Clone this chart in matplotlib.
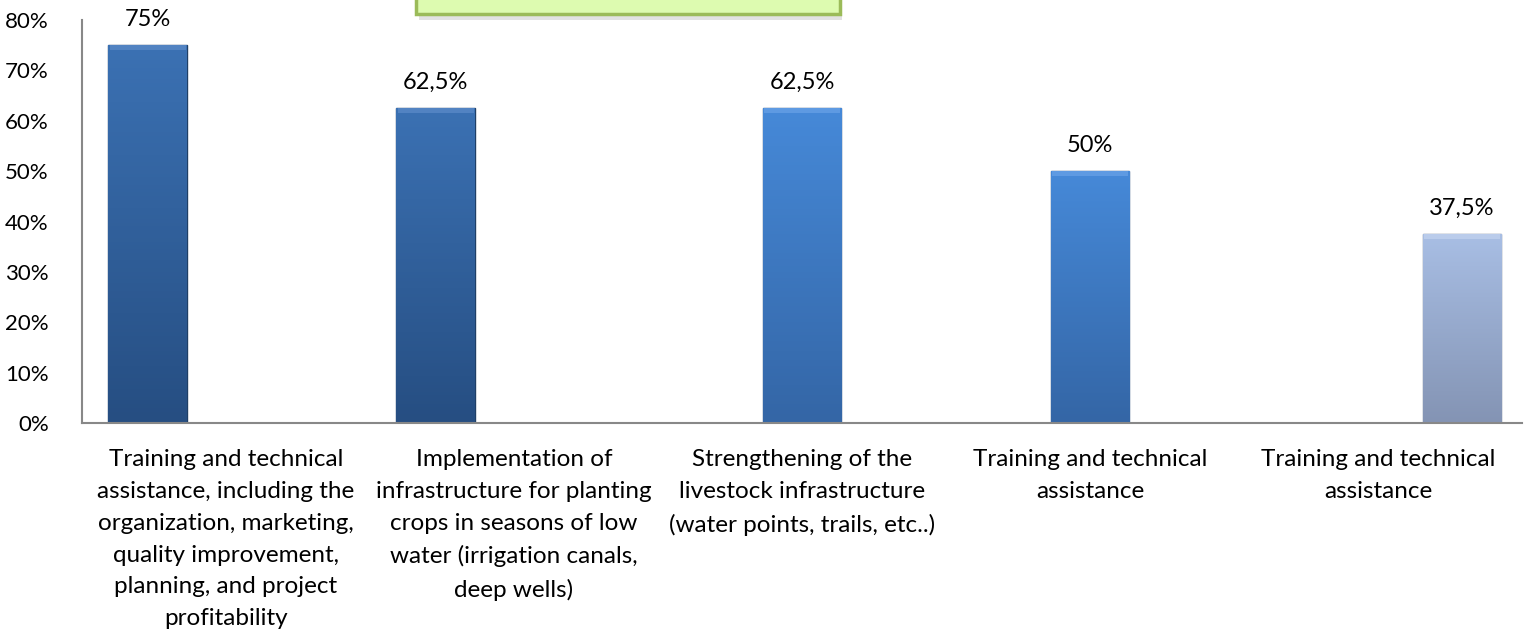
import numpy as np
import matplotlib.pyplot as plt
from matplotlib.patches import Rectangle
from matplotlib.colors import LinearSegmentedColormap

categories = [
    "Training and technical\nassistance, including the\norganization, marketing,\nquality improvement,\nplanning, and project\nprofitability",
    "Implementation of\ninfrastructure for planting\ncrops in seasons of low\nwater (irrigation canals,\ndeep wells)",
    "Strengthening of the\nlivestock infrastructure\n(water points, trails, etc..)",
    "Training and technical\nassistance",
    "Training and technical\nassistance",
]
values = [0.75, 0.625, 0.625, 0.50, 0.375]
value_labels = ["75%", "62,5%", "62,5%", "50%", "37,5%"]
series = [0, 0, 1, 1, 2]  # which cluster slot each bar sits in
yticks = [0, 0.1, 0.2, 0.3, 0.4, 0.5, 0.6, 0.7, 0.8]

# top / bottom gradient colours per series
grad = [("#3B71B3", "#264E82"), ("#4689D8", "#3466A6"), ("#A8BEE4", "#8494B4")]
cap = ["#5283C2", "#5E9AE2", "#BACCEB"]
edge = ["#1F3F66", "#24497A", "#5C6B88"]

plt.rcParams["font.family"] = ["Lato", "DejaVu Sans"]

fig = plt.figure(figsize=(15.26, 6.35), dpi=100)
ax = fig.add_axes([82 / 1526, 212 / 635, 1440 / 1526, 403 / 635])

w = 0.272
offsets = [-w, 0.0, w * 1.07]
for i, (v, s) in enumerate(zip(values, series)):
    xc = i + offsets[s]
    x0 = xc - w / 2
    bar = ax.bar(xc, v, width=w, color=grad[s][0],
                 edgecolor=edge[s], linewidth=1.0, zorder=2)[0]
    cmap = LinearSegmentedColormap.from_list("g", [grad[s][1], grad[s][0]])
    img = ax.imshow(np.linspace(0, 1, 100).reshape(-1, 1), cmap=cmap,
                    extent=[x0, x0 + w, 0, v], origin="lower",
                    aspect="auto", zorder=2.5)
    img.set_clip_path(bar)
    # light bevel cap at the top
    ax.bar(xc, 0.01, width=w * 0.97, bottom=v - 0.01, color=cap[s],
           linewidth=0, zorder=3)
    ax.text(xc, v + 0.03, value_labels[i], ha="center",
            va="bottom", fontsize=17, color="#000000")

ax.set_xlim(-0.5, 4.5)
ax.set_ylim(0, 0.8)
ax.set_yticks(yticks)
ax.set_yticklabels([f"{int(round(t * 100))}%" for t in yticks], fontsize=16)
ax.set_xticks(range(len(categories)))
ax.set_xticklabels(categories, fontsize=17.5, linespacing=1.63, va="top")
ax.tick_params(axis="both", length=0)
ax.tick_params(axis="x", pad=19)
ax.tick_params(axis="y", pad=24)
for side in ["top", "right"]:
    ax.spines[side].set_visible(False)
for side in ["left", "bottom"]:
    ax.spines[side].set_color("#888888")
    ax.spines[side].set_linewidth(1.5)

# green title box cut by the top edge
fig.patches.append(Rectangle((419 / 1526, 1 - 20 / 635), 423 / 1526, 40 / 635,
                             transform=fig.transFigure, facecolor="#D6D6D6",
                             edgecolor="none", alpha=0.7, zorder=1))
fig.patches.append(Rectangle((416 / 1526, 1 - 14 / 635), 424 / 1526, 40 / 635,
                             transform=fig.transFigure, facecolor="#DDFBB0",
                             edgecolor="#9BBB59", linewidth=2.5, zorder=2))

fig.savefig("out.png", dpi=100)
